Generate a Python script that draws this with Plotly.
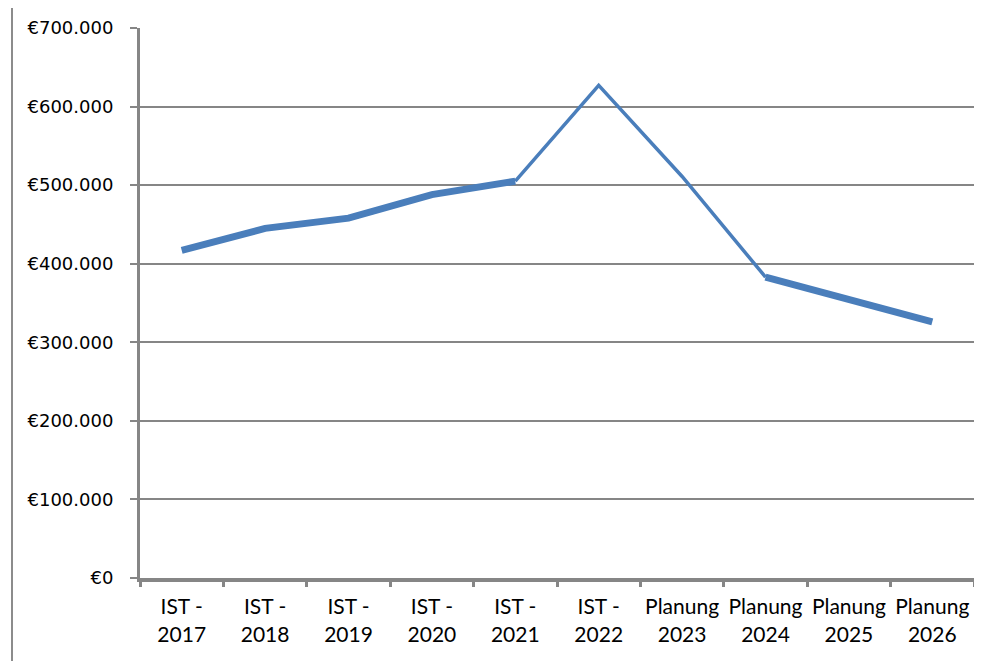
import plotly.graph_objects as go

categories = ["IST -<br>2017", "IST -<br>2018", "IST -<br>2019", "IST -<br>2020", "IST -<br>2021",
              "IST -<br>2022", "Planung<br>2023", "Planung<br>2024", "Planung<br>2025", "Planung<br>2026"]
values = [417000, 445000, 458000, 488000, 505000, 627000, 511000, 383000, 354000, 326000]
y_ticks = [0, 100000, 200000, 300000, 400000, 500000, 600000, 700000]
y_tick_labels = ["€0", "€100.000", "€200.000", "€300.000", "€400.000", "€500.000", "€600.000", "€700.000"]

# segments: (start index, end index inclusive, width)
segments = [(0, 4, 7), (4, 7, 3.5), (7, 9, 7)]

# page body has an 8px margin, so the figure is placed 8px in from the top-left corner
OFF = 8
W, H = 982 - OFF, 661 - OFF
ML, MT = 140 - OFF, 28 - OFF
MR = W - (974 - OFF)
MB = H - (578 - OFF)

fig = go.Figure()
color = "#4A7EBB"
for s, e, w in segments:
    fig.add_trace(go.Scatter(x=categories[s:e + 1], y=values[s:e + 1], mode="lines",
                             line=dict(color=color, width=w), showlegend=False, hoverinfo="skip"))

pw = W - ML - MR
ph = H - MT - MB
def px_x(x):
    return (x - ML) / pw
def px_y(y):
    return (H - MB - y) / ph

fig.update_layout(
    width=W, height=H,
    margin=dict(l=ML, r=MR, t=MT, b=MB, pad=0, autoexpand=False),
    paper_bgcolor="white", plot_bgcolor="white",
    xaxis=dict(
        type="category", categoryorder="array", categoryarray=categories,
        range=[-0.5, len(categories) - 0.5], automargin=False,
        showgrid=False, showline=True, linecolor="#868686", linewidth=4,
        ticks="outside", tickson="boundaries", ticklen=5, tickwidth=3, tickcolor="#868686",
        ticklabelstandoff=7, tickangle=0,
        tickfont=dict(family="Lato", size=21, color="black"),
        zeroline=False, fixedrange=True,
    ),
    yaxis=dict(
        range=[0, 700000], tickvals=y_ticks, ticktext=y_tick_labels, automargin=False,
        showgrid=True, gridcolor="#868686", gridwidth=2,
        showline=True, linecolor="#868686", linewidth=3,
        ticks="outside", ticklen=7, tickwidth=2, tickcolor="#868686",
        ticklabelstandoff=13,
        tickfont=dict(family="DejaVu Sans", size=18, color="black"),
        zeroline=False, fixedrange=True,
    ),
    shapes=[
        dict(type="line", xref="paper", yref="paper", x0=px_x(4), x1=px_x(4), y0=px_y(0), y1=px_y(H),
             line=dict(color="#8C8C8C", width=2)),
    ],
)

fig.write_html("out.html")
